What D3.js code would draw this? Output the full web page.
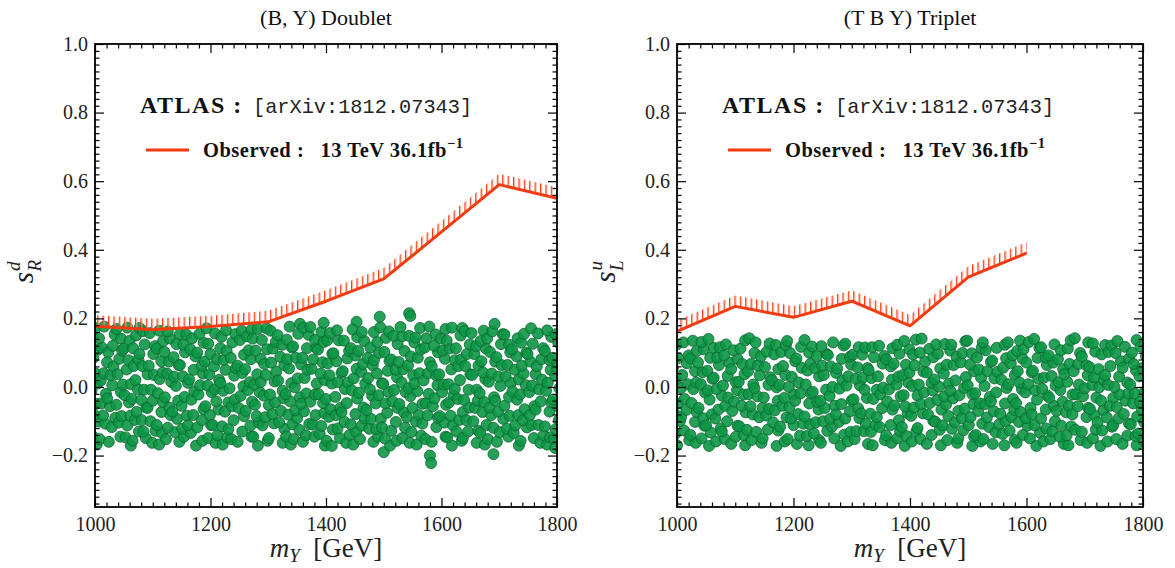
<!DOCTYPE html>
<html>
<head>
<meta charset="utf-8">
<script src="https://cdn.jsdelivr.net/npm/d3@7"></script>
<style>
  body { margin: 0; background: #fff; }
  svg { display: block; }
</style>
</head>
<body>
<svg id="chart" width="1175" height="568"></svg>
<script>
// ---- axis ticks ----
const massTicks = [1000, 1200, 1400, 1600, 1800];
const couplingTicks = [-0.2, 0.0, 0.2, 0.4, 0.6, 0.8, 1.0];

// ---- ATLAS observed upper limits (arXiv:1812.07343) ----
const doubletMass  = [1000, 1100, 1200, 1300, 1400, 1500, 1600, 1700, 1800];
const doubletLimit = [0.177, 0.167, 0.176, 0.190, 0.250, 0.315, 0.452, 0.590, 0.550];
const tripletMass  = [1000, 1100, 1200, 1300, 1400, 1500, 1600];
const tripletLimit = [0.162, 0.235, 0.203, 0.250, 0.178, 0.320, 0.390];

// ---- parameter-scan points: pairs of (m_Y in GeV, mixing in units of 1e-3) ----
const doubletScan = [
1003,-168,995,-142,1006,-101,999,-82,1002,-49,994,-12,1004,10,1000,40,997,85,1005,109,996,144,1001,172,
1008,-152,1018,-107,1014,-83,1011,-48,1019,-20,1010,19,1015,40,1021,72,1012,115,1007,142,1016,176,
1024,-160,1029,-117,1035,-90,1026,-56,1021,-33,1030,5,1027,34,1032,60,1023,101,1031,120,1034,153,
1044,-145,1041,-104,1046,-85,1037,-52,1045,-15,1048,7,1039,37,1042,82,1047,106,1045,141,1037,169,
1062,-171,1053,-147,1056,-112,1061,-84,1059,-45,1051,-24,1062,8,1055,51,1058,78,1050,112,1060,135,1056,173,
1065,-157,1076,-130,1069,-96,1072,-73,1064,-35,1074,-6,1070,20,1067,61,1075,80,1066,113,1071,150,1077,172,
1088,-149,1084,-130,1081,-97,1089,-60,1080,-38,1085,-8,1091,37,1082,61,1077,96,1086,124,1083,163,
1099,-163,1105,-128,1096,-100,1091,-61,1100,-40,1097,-8,1102,35,1093,62,1101,96,1104,119,1095,157,
1111,-168,1116,-134,1107,-111,1115,-73,1118,-44,1109,-18,1112,23,1117,42,1115,75,1107,112,1118,134,1111,164,
1123,-152,1126,-119,1131,-82,1129,-60,1121,-30,1132,15,1125,39,1128,74,1120,102,1130,141,1126,162,
1146,-160,1139,-132,1142,-93,1134,-72,1144,-40,1140,3,1137,30,1145,64,1136,87,1141,125,1147,154,
1154,-145,1151,-122,1159,-84,1150,-55,1155,-29,1161,12,1152,31,1147,64,1156,101,1153,123,1158,153,
1175,-171,1166,-134,1161,-112,1170,-82,1167,-37,1172,-13,1163,22,1171,50,1174,89,1165,110,1168,142,
1186,-157,1177,-118,1185,-97,1188,-65,1179,-22,1182,5,1187,39,1185,62,1177,100,1188,129,1181,155,
1196,-149,1201,-111,1199,-82,1191,-56,1202,-15,1195,4,1198,37,1190,74,1200,96,1196,126,1193,171,
1209,-163,1212,-141,1204,-111,1214,-66,1210,-42,1207,-7,1215,21,1206,60,1211,81,1217,113,1208,156,
1221,-168,1229,-147,1220,-115,1225,-72,1231,-45,1222,-11,1217,12,1226,50,1223,79,1228,105,1219,146,1227,165,
1236,-152,1231,-123,1240,-97,1237,-56,1242,-37,1233,-4,1241,33,1244,55,1235,85,1238,130,1243,154,
1247,-160,1255,-130,1258,-85,1249,-61,1252,-26,1257,2,1255,41,1247,62,1258,94,1251,137,1254,164,
1271,-145,1269,-113,1261,-70,1272,-43,1265,-9,1268,14,1260,52,1270,81,1266,107,1263,148,1271,167,
1282,-171,1274,-145,1284,-104,1280,-85,1277,-52,1285,-15,1276,7,1281,37,1287,82,1278,106,1273,141,1282,169,
1299,-157,1290,-112,1295,-88,1301,-53,1292,-25,1287,14,1296,35,1293,67,1298,110,1289,137,1297,171,
1301,-149,1310,-106,1307,-79,1312,-45,1303,-22,1311,16,1314,45,1305,71,1308,112,1313,131,1304,164,
1325,-163,1328,-122,1319,-103,1322,-70,1327,-33,1325,-11,1317,19,1328,64,1321,88,1324,123,1316,151,
1339,-168,1331,-144,1342,-109,1335,-81,1338,-42,1330,-21,1340,11,1336,54,1333,81,1341,115,1332,138,1337,176,
1344,-152,1354,-125,1350,-91,1347,-68,1355,-30,1346,-1,1351,25,1357,66,1348,85,1343,118,1352,155,1355,184,
1360,-160,1365,-141,1371,-108,1362,-71,1357,-49,1366,-19,1363,26,1368,50,1359,85,1367,113,1370,152,1361,173,
1380,-145,1377,-110,1382,-82,1373,-43,1381,-22,1384,10,1375,53,1378,80,1383,114,1381,137,1373,175,
1398,-171,1389,-137,1392,-114,1397,-76,1395,-47,1387,-21,1398,20,1391,39,1394,72,1386,109,1396,131,1392,161,1396,187,
1401,-157,1412,-124,1405,-87,1408,-65,1400,-35,1410,10,1406,34,1403,69,1411,97,1402,136,1407,157,1410,-172,
1424,-149,1420,-121,1417,-82,1425,-61,1416,-29,1421,14,1427,41,1418,75,1413,98,1422,136,1419,165,
1435,-163,1441,-140,1432,-102,1427,-73,1436,-47,1433,-6,1438,13,1429,46,1437,83,1440,105,1431,135,
1447,-168,1452,-131,1443,-109,1451,-79,1454,-34,1445,-10,1448,25,1453,53,1451,92,1443,113,1454,145,1453,190,1446,168,
1459,-152,1462,-113,1467,-92,1465,-60,1457,-17,1468,10,1461,44,1464,67,1456,105,1466,134,1462,160,
1482,-160,1475,-122,1478,-93,1470,-67,1480,-26,1476,-7,1473,26,1481,63,1472,85,1477,115,1483,160,
1490,-145,1487,-123,1495,-93,1486,-48,1491,-24,1497,11,1488,39,1483,78,1492,99,1489,131,1494,174,1493,205,1500,-190,
1511,-171,1502,-150,1497,-118,1506,-75,1503,-48,1508,-14,1499,9,1507,47,1510,76,1501,102,1504,143,1509,162,
1522,-157,1513,-128,1521,-102,1524,-61,1515,-42,1518,-9,1523,28,1521,50,1513,80,1524,125,1517,149,
1532,-149,1537,-119,1535,-74,1527,-50,1538,-15,1531,13,1534,52,1526,73,1536,105,1532,148,1529,175,1544,215,1546,207,
1545,-163,1548,-131,1540,-88,1550,-61,1546,-27,1543,-4,1551,34,1542,63,1547,89,1553,130,1544,149,
1557,-168,1565,-142,1556,-101,1561,-82,1567,-49,1558,-12,1553,10,1562,40,1559,85,1564,109,1555,144,1563,172,
1572,-152,1567,-107,1576,-83,1573,-48,1578,-20,1569,19,1577,40,1580,72,1571,115,1574,142,1579,176,1580,-200,1582,-222,
1583,-160,1591,-117,1594,-90,1585,-56,1588,-33,1593,5,1591,34,1583,60,1594,101,1587,120,1590,153,
1607,-145,1605,-104,1597,-85,1608,-52,1601,-15,1604,7,1596,37,1606,82,1602,106,1599,141,1607,169,
1618,-171,1610,-147,1620,-112,1616,-84,1613,-45,1621,-24,1612,8,1617,51,1623,78,1614,112,1609,135,1618,173,
1635,-157,1626,-130,1631,-96,1637,-73,1628,-35,1623,-6,1632,20,1629,61,1634,80,1625,113,1633,150,1636,172,
1637,-149,1646,-130,1643,-97,1648,-60,1639,-38,1647,-8,1650,37,1641,61,1644,96,1649,124,1640,163,
1661,-163,1664,-128,1655,-100,1658,-61,1663,-40,1661,-8,1653,35,1664,62,1657,96,1660,119,1652,157,
1675,-168,1667,-134,1678,-111,1671,-73,1674,-44,1666,-18,1676,23,1672,42,1669,75,1677,112,1668,134,1673,164,
1680,-152,1690,-119,1686,-82,1683,-60,1691,-30,1682,15,1687,39,1693,74,1684,102,1679,141,1688,162,1692,184,1690,-196,
1696,-160,1701,-132,1707,-93,1698,-72,1693,-40,1702,3,1699,30,1704,64,1695,87,1703,125,1706,154,
1716,-145,1713,-122,1718,-84,1709,-55,1717,-29,1720,12,1711,31,1714,64,1719,101,1717,123,1709,153,
1734,-171,1725,-134,1728,-112,1733,-82,1731,-37,1723,-13,1734,22,1727,50,1730,89,1722,110,1732,142,
1737,-157,1748,-118,1741,-97,1744,-65,1736,-22,1746,5,1742,39,1739,62,1747,100,1738,129,1743,155,
1760,-149,1756,-111,1753,-82,1761,-56,1752,-15,1757,4,1763,37,1754,74,1749,96,1758,126,1755,171,
1771,-163,1777,-141,1768,-111,1763,-66,1772,-42,1769,-7,1774,21,1765,60,1773,81,1776,113,1767,156,
1783,-168,1788,-147,1779,-115,1787,-72,1790,-45,1781,-11,1784,12,1789,50,1787,79,1779,105,1790,146,1783,165,
1795,-152,1798,-123,1803,-97,1801,-56,1793,-37,1804,-4,1797,33,1800,55,1792,85,1802,130,1798,154,1797,-178
];

const tripletScan = [
1000,-170,997,-137,1005,-100,996,-78,1001,-48,1007,-3,998,21,993,56,1002,84,999,123,
1021,-155,1012,-127,1007,-88,1016,-67,1013,-35,1018,8,1009,35,1017,69,1020,92,1011,130,
1032,-163,1023,-140,1031,-102,1034,-73,1025,-47,1028,-6,1033,13,1031,46,1023,83,1034,105,1027,135,
1042,-150,1047,-113,1045,-91,1037,-61,1048,-16,1041,8,1044,43,1036,71,1046,110,1042,131,
1055,-172,1058,-133,1050,-112,1060,-80,1056,-37,1053,-10,1061,24,1052,47,1057,85,1063,114,1054,140,
1067,-159,1075,-121,1066,-92,1071,-66,1077,-25,1068,-6,1063,27,1072,64,1069,86,1074,116,
1082,-152,1077,-130,1086,-100,1083,-55,1088,-31,1079,4,1087,32,1090,71,1081,92,1084,124,
1093,-166,1101,-145,1104,-113,1095,-70,1098,-43,1103,-9,1101,14,1093,52,1104,81,1097,107,
1117,-170,1115,-141,1107,-115,1118,-74,1111,-55,1114,-22,1106,15,1116,37,1112,67,1109,112,1117,136,
1128,-155,1120,-125,1130,-80,1126,-56,1123,-21,1131,7,1122,46,1127,67,1133,99,1124,142,
1145,-163,1136,-131,1141,-88,1147,-61,1138,-27,1133,-4,1142,34,1139,63,1144,89,1135,130,
1147,-150,1156,-124,1153,-83,1158,-64,1149,-31,1157,6,1160,28,1151,58,1154,103,1159,127,
1171,-172,1174,-127,1165,-103,1168,-68,1173,-40,1171,-1,1163,20,1174,52,1167,95,1170,122,
1185,-159,1177,-116,1188,-89,1181,-55,1184,-32,1176,6,1186,35,1182,61,1179,102,1187,121,
1190,-152,1200,-111,1196,-92,1193,-59,1201,-22,1192,0,1197,30,1203,75,1194,99,1189,134,
1206,-166,1211,-142,1217,-107,1208,-79,1203,-40,1212,-19,1209,13,1214,56,1205,83,1213,117,
1226,-170,1223,-143,1228,-109,1219,-86,1227,-48,1230,-19,1221,7,1224,48,1229,67,1227,100,1219,137,
1244,-155,1235,-136,1238,-103,1243,-66,1241,-44,1233,-14,1244,31,1237,55,1240,90,1232,118,
1247,-163,1258,-128,1251,-100,1254,-61,1246,-40,1256,-8,1252,35,1249,62,1257,96,1248,119,
1270,-150,1266,-116,1263,-93,1271,-55,1262,-26,1267,0,1273,41,1264,60,1259,93,1268,130,
1281,-172,1287,-139,1278,-102,1273,-80,1282,-50,1279,-5,1284,19,1275,54,1283,82,1286,121,
1293,-159,1298,-131,1289,-92,1297,-71,1300,-39,1291,4,1294,31,1299,65,1297,88,1289,126,
1305,-152,1308,-129,1313,-91,1311,-62,1303,-36,1314,5,1307,24,1310,57,1302,94,1312,116,
1328,-166,1321,-129,1324,-107,1316,-77,1326,-32,1322,-8,1319,27,1327,55,1318,94,1323,115,
1336,-170,1333,-131,1341,-110,1332,-78,1337,-35,1343,-8,1334,26,1329,49,1338,87,1335,116,
1357,-155,1348,-117,1343,-88,1352,-62,1349,-21,1354,-2,1345,31,1353,68,1356,90,1347,120,
1368,-163,1359,-141,1367,-111,1370,-66,1361,-42,1364,-7,1369,21,1367,60,1359,81,1370,113,
1378,-150,1383,-129,1381,-97,1373,-54,1384,-27,1377,7,1380,30,1372,68,1382,97,1378,123,
1391,-172,1394,-143,1386,-117,1396,-76,1392,-57,1389,-24,1397,13,1388,35,1393,65,1399,110,1390,134,
1403,-159,1411,-129,1402,-84,1407,-60,1413,-25,1404,3,1399,42,1408,63,1405,95,1410,138,
1418,-152,1413,-120,1422,-77,1419,-50,1424,-16,1415,7,1423,45,1426,74,1417,100,1420,141,
1429,-166,1437,-140,1440,-99,1431,-80,1434,-47,1439,-10,1437,12,1429,42,1440,87,1433,111,
1453,-170,1451,-125,1443,-101,1454,-66,1447,-38,1450,1,1442,22,1452,54,1448,97,1445,124,
1464,-155,1456,-112,1466,-85,1462,-51,1459,-28,1467,10,1458,39,1463,65,1469,106,1460,125,
1481,-163,1472,-122,1477,-103,1483,-70,1474,-33,1469,-11,1478,19,1475,64,1480,88,1471,123,
1483,-150,1492,-126,1489,-91,1494,-63,1485,-24,1493,-3,1496,29,1487,72,1490,99,1495,133,
1507,-172,1510,-145,1501,-111,1504,-88,1509,-50,1507,-21,1499,5,1510,46,1503,65,1506,98,1498,135,
1521,-159,1513,-140,1524,-107,1517,-70,1520,-48,1512,-18,1522,27,1518,51,1515,86,1523,114,
1526,-152,1536,-117,1532,-89,1529,-50,1537,-29,1528,3,1533,46,1539,73,1530,107,1525,130,
1542,-166,1547,-132,1553,-109,1544,-71,1539,-42,1548,-16,1545,25,1550,44,1541,77,1549,114,
1562,-170,1559,-137,1564,-100,1555,-78,1563,-48,1566,-3,1557,21,1560,56,1565,84,1563,123,
1580,-155,1571,-127,1574,-88,1579,-67,1577,-35,1569,8,1580,35,1573,69,1576,92,1568,130,
1583,-163,1594,-140,1587,-102,1590,-73,1582,-47,1592,-6,1588,13,1585,46,1593,83,1584,105,1589,135,
1606,-150,1602,-113,1599,-91,1607,-61,1598,-16,1603,8,1609,43,1600,71,1595,110,1604,131,
1617,-172,1623,-133,1614,-112,1609,-80,1618,-37,1615,-10,1620,24,1611,47,1619,85,1622,114,1613,140,
1629,-159,1634,-121,1625,-92,1633,-66,1636,-25,1627,-6,1630,27,1635,64,1633,86,1625,116,
1641,-152,1644,-130,1649,-100,1647,-55,1639,-31,1650,4,1643,32,1646,71,1638,92,1648,124,
1664,-166,1657,-145,1660,-113,1652,-70,1662,-43,1658,-9,1655,14,1663,52,1654,81,1659,107,
1672,-170,1669,-141,1677,-115,1668,-74,1673,-55,1679,-22,1670,15,1665,37,1674,67,1671,112,1676,136,
1693,-155,1684,-125,1679,-80,1688,-56,1685,-21,1690,7,1681,46,1689,67,1692,99,1683,142,
1704,-163,1695,-131,1703,-88,1706,-61,1697,-27,1700,-4,1705,34,1703,63,1695,89,1706,130,
1714,-150,1719,-124,1717,-83,1709,-64,1720,-31,1713,6,1716,28,1708,58,1718,103,1714,127,
1727,-172,1730,-127,1722,-103,1732,-68,1728,-40,1725,-1,1733,20,1724,52,1729,95,1735,122,
1739,-159,1747,-116,1738,-89,1743,-55,1749,-32,1740,6,1735,35,1744,61,1741,102,1746,121,
1754,-152,1749,-111,1758,-92,1755,-59,1760,-22,1751,0,1759,30,1762,75,1753,99,1756,134,
1765,-166,1773,-142,1776,-107,1767,-79,1770,-40,1775,-19,1773,13,1765,56,1776,83,1769,117,
1789,-170,1787,-143,1779,-109,1790,-86,1783,-48,1786,-19,1778,7,1788,48,1784,67,1781,100,1789,137,
1800,-155,1792,-136,1802,-103,1798,-66,1795,-44,1803,-14,1794,31,1799,55,1805,90,1796,118
];

// ---- layout ----
const plotTop = 44, plotBottom = 507;
const serif = "'Liberation Serif', 'DejaVu Serif', serif";
const mono = "'Liberation Mono', 'DejaVu Sans Mono', monospace";
const limitColor = "#f23b10";

const panels = [
  { id: "doublet", title: "(B, Y) Doublet", left: 95, right: 557, sub: "R", sup: "d",
    mass: doubletMass, limit: doubletLimit, scan: doubletScan },
  { id: "triplet", title: "(T B Y) Triplet", left: 677, right: 1143, sub: "L", sup: "u",
    mass: tripletMass, limit: tripletLimit, scan: tripletScan }
];

const svg = d3.select("#chart");
const defs = svg.append("defs");

// vertical hatching drawn on the excluded side of each limit curve
const hatch = defs.append("pattern")
  .attr("id", "hatch").attr("patternUnits", "userSpaceOnUse")
  .attr("width", 5.4).attr("height", 40);
hatch.append("rect").attr("x", 0).attr("y", 0).attr("width", 1.2).attr("height", 40).attr("fill", limitColor);
hatch.append("rect").attr("x", 1.2).attr("y", 0).attr("width", 0.9).attr("height", 40).attr("fill", "#f7a690");

panels.forEach(p => {
  const x = d3.scaleLinear().domain([1000, 1800]).range([p.left, p.right]);
  const y = d3.scaleLinear().domain([-0.35, 1.0]).range([plotBottom, plotTop]);
  const g = svg.append("g").attr("class", "panel " + p.id);

  defs.append("clipPath").attr("id", "clip-" + p.id)
    .append("rect").attr("x", p.left).attr("y", plotTop)
    .attr("width", p.right - p.left).attr("height", plotBottom - plotTop);

  const plot = g.append("g").attr("clip-path", `url(#clip-${p.id})`);

  // scan points
  const pts = [];
  for (let i = 0; i < p.scan.length; i += 2) pts.push({ m: p.scan[i], s: p.scan[i + 1] / 1000 });
  plot.append("g").selectAll("circle").data(pts).join("circle")
    .attr("cx", d => x(d.m)).attr("cy", d => y(d.s)).attr("r", 5.5)
    .attr("fill", "#0c9645").attr("fill-opacity", 0.9)
    .attr("stroke", "#0a6630").attr("stroke-width", 0.8);

  // observed limit with hatched excluded side
  const lim = p.mass.map((m, i) => ({ m, v: p.limit[i] }));
  plot.append("path").datum(lim)
    .attr("d", d3.area().x(d => x(d.m)).y0(d => y(d.v)).y1(d => y(d.v + 0.032)))
    .attr("fill", "url(#hatch)");
  plot.append("path").datum(lim)
    .attr("d", d3.line().x(d => x(d.m)).y(d => y(d.v)))
    .attr("fill", "none").attr("stroke", limitColor).attr("stroke-width", 3)
    .attr("stroke-linejoin", "round");

  // axes: inward ticks on all four sides
  const minorX = d3.range(1000, 1801, 20).filter(v => v % 200 !== 0);
  const minorY = d3.range(-34, 101, 2).map(v => v / 100).filter(v => Math.round(v * 100) % 20 !== 0);
  const fmtY = d3.format(".1f");

  const axes = [
    [d3.axisBottom(x).tickValues(massTicks).tickSize(-9).tickPadding(10).tickFormat(d3.format("d")), `translate(0,${plotBottom})`, true],
    [d3.axisBottom(x).tickValues(minorX).tickSize(-4.5).tickFormat(""), `translate(0,${plotBottom})`, false],
    [d3.axisTop(x).tickValues(massTicks).tickSize(-9).tickFormat(""), `translate(0,${plotTop})`, false],
    [d3.axisTop(x).tickValues(minorX).tickSize(-4.5).tickFormat(""), `translate(0,${plotTop})`, false],
    [d3.axisLeft(y).tickValues(couplingTicks).tickSize(-9).tickPadding(7).tickFormat(fmtY), `translate(${p.left},0)`, true],
    [d3.axisLeft(y).tickValues(minorY).tickSize(-4.5).tickFormat(""), `translate(${p.left},0)`, false],
    [d3.axisRight(y).tickValues(couplingTicks).tickSize(-9).tickFormat(""), `translate(${p.right},0)`, false],
    [d3.axisRight(y).tickValues(minorY).tickSize(-4.5).tickFormat(""), `translate(${p.right},0)`, false]
  ];
  axes.forEach(([ax, tr, labels]) => {
    const a = g.append("g").attr("transform", tr).call(ax);
    a.select(".domain").remove();
    a.selectAll(".tick line").attr("stroke", "#000").attr("stroke-width", 1.2);
    if (labels) {
      a.selectAll(".tick text").attr("font-family", serif).attr("font-size", 20).attr("fill", "#222");
    }
  });

  // frame
  g.append("rect").attr("x", p.left).attr("y", plotTop)
    .attr("width", p.right - p.left).attr("height", plotBottom - plotTop)
    .attr("fill", "none").attr("stroke", "#000").attr("stroke-width", 1.8);

  const cx = (p.left + p.right) / 2;

  // title
  g.append("text").attr("x", cx).attr("y", 25).attr("text-anchor", "middle")
    .attr("font-family", serif).attr("font-size", 22).attr("fill", "#111").text(p.title);

  // x label: m_Y [GeV]
  const xl = g.append("text").attr("x", cx).attr("y", 557).attr("text-anchor", "middle")
    .attr("font-family", serif).attr("font-size", 27).attr("fill", "#222");
  xl.append("tspan").attr("font-style", "italic").text("m");
  xl.append("tspan").attr("font-style", "italic").attr("font-size", 19).attr("dy", 5).text("Y");
  xl.append("tspan").attr("dy", -5).text("\u2002[GeV]");

  // y label: s with subscript and superscript
  const yl = g.append("g").attr("transform", `translate(${p.left - 62},${(plotTop + plotBottom) / 2 - 4}) rotate(-90)`);
  const yt = yl.append("text").attr("text-anchor", "middle")
    .attr("font-family", serif).attr("font-size", 29).attr("fill", "#222");
  yt.append("tspan").attr("font-style", "italic").text("s");
  yt.append("tspan").attr("font-style", "italic").attr("font-size", 19).attr("dy", -13).attr("dx", 1).text(p.sup);
  yt.append("tspan").attr("font-style", "italic").attr("font-size", 19).attr("dy", 21).attr("dx", -10).text(p.sub);

  // experiment annotation
  const ax0 = p.left + 45;
  g.append("text").attr("x", ax0).attr("y", 113)
    .attr("font-family", serif).attr("font-weight", "bold").attr("font-size", 24)
    .attr("letter-spacing", 1.5).attr("fill", "#111").text("ATLAS :");
  g.append("text").attr("x", ax0 + 113).attr("y", 113)
    .attr("font-family", mono).attr("font-size", 20.3).attr("fill", "#222").text("[arXiv:1812.07343]");

  // legend
  g.append("line").attr("x1", p.left + 51).attr("x2", p.left + 94)
    .attr("y1", 150).attr("y2", 150).attr("stroke", limitColor).attr("stroke-width", 3);
  const lt = g.append("text").attr("x", p.left + 108).attr("y", 157)
    .attr("font-family", serif).attr("font-weight", "bold").attr("font-size", 20.5)
    .attr("letter-spacing", 0.5).attr("fill", "#111");
  lt.append("tspan").text("Observed :\u2002 13 TeV 36.1fb");
  lt.append("tspan").attr("font-size", 14.5).attr("dy", -9).text("\u22121");
});
</script>
</body>
</html>
